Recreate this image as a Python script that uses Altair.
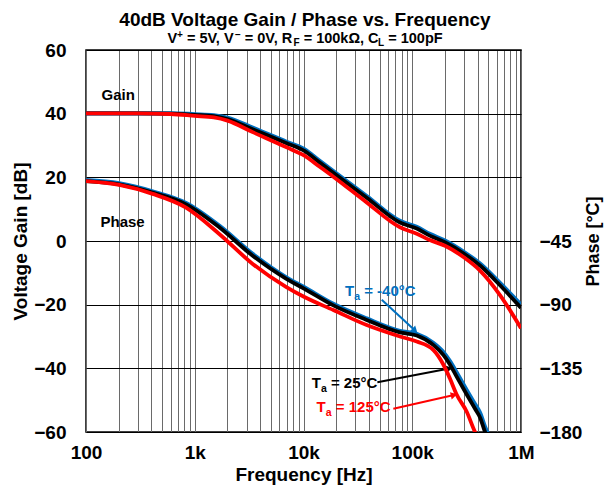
import altair as alt
import pandas as pd

FONT = "Liberation Sans"
BLUE = "#0070C0"
RED = "#FF0000"
BLACK = "#000000"

# ---------------- data ----------------
gain_freq = [100, 300, 600, 1000, 1500, 2000, 3410, 6900, 10200, 14000, 18800, 38100,
             77100, 110000, 145000, 200000, 300000, 420000, 641000, 1000000]
gain_m40 = [40.1, 40.1, 40.1, 39.8, 39.5, 38.7, 35.6, 31.2, 28.8, 25.2, 21.9, 14.1,
            6.3, 4.4, 2.2, 0.1, -3.5, -7.1, -13.2, -20.0]
gain_25 = [40.1, 40.1, 40.0, 39.6, 39.2, 38.3, 35.1, 30.8, 28.3, 24.7, 21.4, 13.6,
           5.8, 3.9, 1.7, -0.4, -4.0, -7.7, -13.9, -21.0]
gain_125 = [40.1, 40.1, 39.9, 39.3, 38.8, 37.8, 34.2, 29.5, 26.8, 23.4, 20.2, 12.1,
            4.3, 2.3, 0.3, -1.5, -5.2, -9.3, -17.0, -27.4]

phase_freq = [100, 202, 410, 832, 1680, 3410, 6900, 10200, 18800, 38100,
              77100, 110000, 156000, 193000, 222000, 256000, 317000, 378000,
              420000, 467000, 541000]
phase_m40 = [-2.0, -4.3, -10.0, -18.2, -34.2, -54.2, -70.6, -77.8, -89.5, -99.8,
             -108.6, -110.8, -117.0, -123.5, -130.0, -138.0, -150.5, -160.5,
             -166.5, -176.5, -187.0]
phase_25 = [-2.7, -5.0, -10.8, -19.1, -35.3, -55.4, -71.6, -78.8, -90.5, -100.8,
            -109.6, -111.8, -118.4, -125.5, -132.3, -140.9, -153.5, -163.6,
            -169.7, -180.0, -190.0]
phase_125 = [-2.7, -5.4, -11.7, -21.4, -40.0, -61.2, -77.4, -84.6, -93.8, -104.4,
             -112.5, -116.1, -122.0, -132.3, -142.2, -153.5, -165.7, -180.0,
             -186.0, -194.0, -205.0]

x_tick_values = [100, 200, 300, 400, 500, 600, 700, 800, 900,
                 1000, 2000, 3000, 4000, 5000, 6000, 7000, 8000, 9000,
                 10000, 20000, 30000, 40000, 50000, 60000, 70000, 80000, 90000,
                 100000, 200000, 300000, 400000, 500000, 600000, 700000, 800000, 900000,
                 1000000]
x_tick_names = {100: "100", 1000: "1k", 10000: "10k", 100000: "100k", 1000000: "1M"}
gain_ticks = [-60, -40, -20, 0, 20, 40, 60]
phase_ticks = [-45, -90, -135, -180]

title_text = "40dB Voltage Gain / Phase vs. Frequency"
subtitle_parts = [("V", "n"), ("+", "sup"), (" = 5V, V", "n"), ("\u2212", "sup"),
                  (" = 0V, R", "n"), ("F", "sub"), (" = 100k\u03a9, C", "n"),
                  ("L", "sub"), (" = 100pF", "n")]

# temperature labels: (rest of text, freq, gain, colour)
temp_labels = [("= -40\u00b0C", 24070, -17.2, BLUE),
               ("= 25\u00b0C", 11900, -46.2, BLACK),
               ("= 125\u00b0C", 13200, -53.8, RED)]
# arrows: (f0, g0, f1, g1, colour, heading angle)
arrows = [(52400, -18.45, 106000, -28.1, BLUE, 43),
          (47800, -44.4, 219000, -40.05, BLACK, 349),
          (67000, -52.7, 242000, -48.4, RED, 347)]
curve_labels = [("Gain", 139, 44.2), ("Phase", 136, 4.4)]

# ---------------- helpers ----------------
W = {' ': 278, '=': 584, '0': 556, '1': 556, '2': 556, '4': 556, '5': 556,
     'V': 667, ',': 278, 'R': 722, 'F': 611, 'k': 556, '\u03a9': 768, 'C': 722,
     'L': 611, 'p': 611, '+': 584, '\u2212': 584, 'T': 611, 'a': 556, '-': 333,
     '\u00b0': 400}


def tw(s, size):
    return sum(W.get(c, 556) for c in s) * size / 1000.0


PW, PH = 435, 382
TOP = 42

label_expr = " : ".join(
    f"datum.value == {k} ? '{v}'" for k, v in x_tick_names.items()) + " : ''"

x_axis = alt.Axis(values=x_tick_values, labelExpr=label_expr, grid=True,
                  gridColor="#6a6a6a", gridWidth=1, ticks=False, domain=False,
                  labelOverlap=False, labelFlush=False, labelPadding=11,
                  labelFont=FONT, labelFontSize=19, labelFontWeight="bold",
                  labelColor="black", titleFont=FONT, titleFontSize=19,
                  titleFontWeight="bold", titleColor="black", titlePadding=3)
gain_axis = alt.Axis(values=gain_ticks, grid=True, gridColor="black", gridWidth=1,
                     ticks=False, domain=False, labelFlush=False, labelPadding=20,
                     labelFont=FONT, labelFontSize=19, labelFontWeight="bold",
                     labelColor="black", titleFont=FONT, titleFontSize=19,
                     titleFontWeight="bold", titleColor="black", titlePadding=3)
phase_axis = alt.Axis(orient="right", values=phase_ticks, grid=False, ticks=False,
                      domain=False, labelFlush=False, labelPadding=18,
                      labelFont=FONT, labelFontSize=19, labelFontWeight="bold",
                      labelColor="black", titleFont=FONT, titleFontSize=18,
                      titleFontWeight="bold", titleColor="black", titlePadding=3,
                      titleAngle=270, titleBaseline="top")

X = alt.X("f:Q", scale=alt.Scale(type="log", domain=[100, 1000000], nice=False),
          axis=x_axis, title="Frequency [Hz]")
YG = alt.Y("g:Q", scale=alt.Scale(domain=[-60, 60], nice=False, zero=False),
           axis=gain_axis, title="Voltage Gain [dB]")
YP = alt.Y("p:Q", scale=alt.Scale(domain=[-180, 90], nice=False, zero=False),
           axis=phase_axis, title="Phase [\u00b0C]")


def gline(vals, color, w):
    df = pd.DataFrame({"f": gain_freq, "g": vals})
    return alt.Chart(df).mark_line(color=color, strokeWidth=w, interpolate="monotone",
                                   clip=True).encode(x=X, y=YG)


def pline(vals, color, w):
    df = pd.DataFrame({"f": phase_freq, "p": vals})
    return alt.Chart(df).mark_line(color=color, strokeWidth=w, interpolate="monotone",
                                   clip=True).encode(x=X, y=YP)


gain_layers = [gline(gain_m40, BLUE, 4.2), gline(gain_25, BLACK, 3.8),
               gline(gain_125, RED, 3.8)]

# curve labels
for txt, f, g in curve_labels:
    gain_layers.append(alt.Chart(pd.DataFrame({"f": [f], "g": [g]})).mark_text(
        text=txt, align="left", baseline="alphabetic", font=FONT, fontSize=15,
        fontWeight="bold", color="black").encode(x=X, y=YG))

# temperature labels with subscript
TS, SS = 15, 10.5
for rest, f, g, col in temp_labels:
    d = pd.DataFrame({"f": [f], "g": [g]})
    gain_layers.append(alt.Chart(d).mark_text(
        text="T", align="left", baseline="alphabetic", font=FONT, fontSize=TS,
        fontWeight="bold", color=col).encode(x=X, y=YG))
    gain_layers.append(alt.Chart(d).mark_text(
        text="a", align="left", baseline="alphabetic", font=FONT, fontSize=SS,
        fontWeight="bold", color=col, dx=tw("T", TS), dy=4).encode(x=X, y=YG))
    gain_layers.append(alt.Chart(d).mark_text(
        text=rest, align="left", baseline="alphabetic", font=FONT, fontSize=TS,
        fontWeight="bold", color=col,
        dx=tw("T", TS) + tw("a", SS) + tw(" ", TS)).encode(x=X, y=YG))

# arrows
for f0, g0, f1, g1, col, ang in arrows:
    d = pd.DataFrame({"f": [f0, f1], "g": [g0, g1], "o": [0, 1]})
    gain_layers.append(alt.Chart(d).mark_line(color=col, strokeWidth=2).encode(
        x=X, y=YG, order="o:Q"))
    gain_layers.append(alt.Chart(pd.DataFrame({"f": [f1], "g": [g1]})).mark_point(
        shape="triangle-right", filled=True, size=55, color=col, opacity=1,
        angle=ang).encode(x=X, y=YG))

# title & subtitle (page baselines ~25.5 and ~43)
one = pd.DataFrame({"a": [0]})
gain_layers.append(alt.Chart(one).mark_text(
    text=title_text, align="center", baseline="alphabetic", font=FONT, fontSize=19,
    fontWeight="bold", color="black").encode(x=alt.value(219),
                                             y=alt.value(25.5 - 8 - TOP)))

NS, SUBS = 14.5, 10
sizes = {"n": NS, "sup": SUBS, "sub": SUBS}
dys = {"n": 0, "sup": -5, "sub": 3}
total = sum(tw(t, sizes[k]) for t, k in subtitle_parts)
cursor = 219 - total / 2
for t, k in subtitle_parts:
    lead = len(t) - len(t.lstrip(" "))
    x0 = cursor + tw(" " * lead, sizes[k])
    gain_layers.append(alt.Chart(one).mark_text(
        text=t.strip(" "), align="left", baseline="alphabetic", font=FONT,
        fontSize=sizes[k], fontWeight="bold", color="black", dy=dys[k]).encode(
        x=alt.value(x0), y=alt.value(43 - 8 - TOP)))
    cursor += tw(t, sizes[k])

gain_group = alt.layer(*gain_layers)
phase_group = alt.layer(pline(phase_m40, BLUE, 4.2), pline(phase_25, BLACK, 3.8),
                        pline(phase_125, RED, 3.8))

chart = alt.layer(gain_group, phase_group).resolve_scale(y="independent").properties(
    width=PW, height=PH,
    autosize=alt.AutoSizeParams(type="none"),
    padding={"left": 78, "top": TOP, "right": 596 - 78 - PW, "bottom": 483 - TOP - PH},
    background="white",
).configure_view(stroke="black", strokeWidth=1.5)

chart.save("out.html", embed_options={"renderer": "svg", "actions": False})
